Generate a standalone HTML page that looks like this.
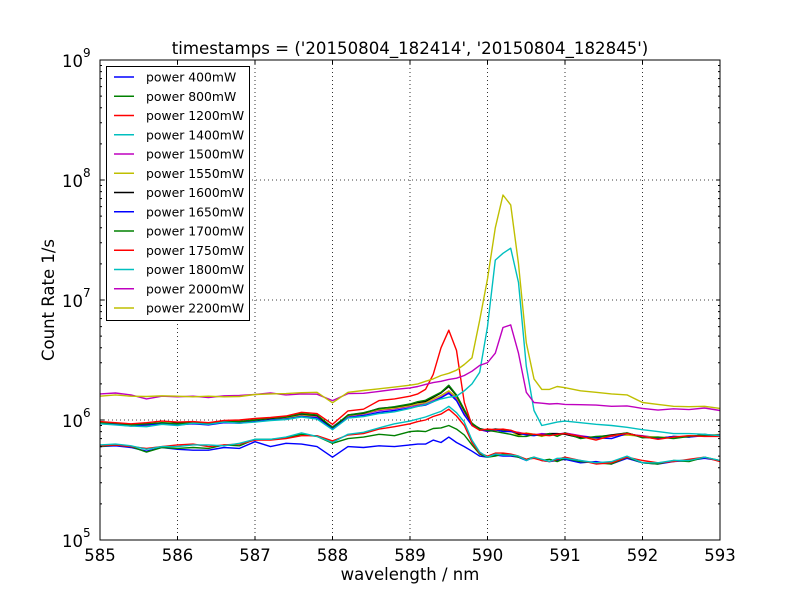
<!DOCTYPE html>
<html><head><meta charset="utf-8"><style>
html,body{margin:0;padding:0;background:#fff;}
svg{display:block;font-family:"DejaVu Sans","Liberation Sans",sans-serif;}
</style></head><body>
<svg id="chart" width="800" height="600" viewBox="0 0 800 600">
<rect x="0" y="0" width="800" height="600" fill="#fff"/>
<g id="grid"></g>
<g id="series"></g>
<rect x="100" y="60" width="620" height="480" fill="none" stroke="#000" stroke-width="1"/>
<g id="ticks"></g>
<text x="410" y="54" text-anchor="middle" font-size="16.6">timestamps = ('20150804_182414', '20150804_182845')</text>
<text x="410" y="580" text-anchor="middle" font-size="16.5">wavelength / nm</text>
<text x="54" y="300" text-anchor="middle" font-size="16.5" transform="rotate(-90 54 300)">Count Rate 1/s</text>
<g id="legend"></g>
</svg>
<script>
const wavelengths = [585,585.2,585.4,585.6,585.8,586,586.2,586.4,586.6,586.8,587,587.2,587.4,587.6,587.8,588,588.2,588.4,588.6,588.8,
589.0,589.1,589.2,589.3,589.4,589.5,589.6,589.7,589.8,589.9,590.0,590.1,590.2,590.3,590.4,590.5,590.6,590.7,590.8,590.9,591.0,
591.2,591.4,591.6,591.8,592,592.2,592.4,592.6,592.8,593];
const seriesNames = ["power 400mW","power 800mW","power 1200mW","power 1400mW","power 1500mW","power 1550mW","power 1600mW","power 1650mW","power 1700mW","power 1750mW","power 1800mW","power 2000mW","power 2200mW"];
const seriesColors = ["#0000ff","#008000","#ff0000","#00bfbf","#bf00bf","#bfbf00","#000000","#0000ff","#008000","#ff0000","#00bfbf","#bf00bf","#bfbf00"];
// values in units of 1e5 counts/s
const p400 = [6.0,6.1,5.9,5.5,5.9,5.7,5.6,5.6,5.9,5.8,6.6,6.0,6.4,6.3,6.0,4.9,6.0,5.9,6.1,6.0, 6.2,6.3,6.3,6.8,6.5,7.2,6.5,6.0,5.5,5.0,4.9,5.1,5.0,5.0,4.9,4.6,4.9,4.6,4.5,4.6,4.7, 4.4,4.5,4.3,4.8,4.4,4.3,4.5,4.6,4.8,4.6];
const p800 = [6.0,6.2,6.0,5.4,5.9,5.8,5.9,5.8,6.2,6.1,6.9,6.9,7.1,7.6,7.3,6.4,7.0,7.2,7.6,7.4, 8.0,8.1,8.0,8.5,8.6,9.0,8.4,7.5,6.2,5.2,4.9,5.0,5.2,5.1,4.9,4.7,4.9,4.6,4.7,4.5,4.8, 4.5,4.4,4.3,4.9,4.4,4.3,4.6,4.5,4.9,4.6];
const p1200 = [6.1,6.2,6.0,5.8,6.0,6.2,6.3,6.0,6.2,6.3,6.8,6.8,7.0,7.4,7.4,6.7,7.5,7.7,8.4,8.8, 9.3,9.7,10.0,10.7,11.2,12.3,10.8,9.0,6.5,5.3,5.0,5.3,5.3,5.2,5.0,4.7,4.8,4.6,4.5,4.7,4.9, 4.6,4.3,4.4,4.9,4.6,4.4,4.5,4.7,4.9,4.5];
const p1400 = [6.2,6.3,6.1,5.7,6.0,6.0,6.2,6.2,6.1,6.4,6.9,6.9,7.2,7.8,7.3,6.5,7.6,7.9,8.6,9.3, 9.8,10.2,10.6,11.2,11.8,13.0,11.5,9.6,6.8,5.4,4.9,5.2,5.1,5.1,5.0,4.6,4.9,4.7,4.5,4.8,4.8, 4.6,4.4,4.5,5.0,4.4,4.4,4.6,4.6,4.9,4.6];
const p1500 = [9.5,9.3,9.0,9.2,9.4,9.2,9.6,9.3,9.7,9.6,9.8,10.2,10.3,10.9,10.6,8.8,10.8,11.2,12.0,12.4, 13.0,13.3,13.6,14.5,15.5,17.0,15.0,11.5,9.2,8.3,8.0,8.2,8.2,8.0,7.9,7.6,7.5,7.7,7.6,7.6,7.8, 7.4,7.1,7.3,7.6,7.4,7.1,7.2,7.3,7.5,7.5];
const p1550 = [9.6,9.2,9.2,9.0,9.5,9.4,9.5,9.4,9.6,9.8,9.9,10.1,10.5,10.8,10.9,8.6,10.9,11.3,12.2,12.6, 13.2,13.6,14.0,15.0,16.0,17.5,15.5,11.8,9.4,8.4,8.1,8.3,8.1,8.1,7.4,7.8,7.6,7.3,7.6,7.5,7.7, 7.2,7.0,7.4,7.5,7.3,7.2,7.1,7.4,7.4,7.6];
const p1600 = [9.4,9.4,9.1,9.3,9.2,9.5,9.4,9.2,9.8,9.7,10.0,10.3,10.6,11.2,10.9,8.5,11.0,11.4,12.5,12.8, 13.5,14.0,14.3,15.5,16.8,19.0,16.0,12.0,9.3,8.5,8.2,8.4,8.3,8.2,7.6,7.7,7.5,7.5,7.7,7.7,7.6, 7.1,7.2,7.5,7.8,7.2,7.0,7.3,7.2,7.6,7.3];
const p1650 = [9.3,9.2,8.9,9.1,9.3,9.1,9.3,9.1,9.5,9.4,9.7,10.0,10.2,10.7,10.4,8.4,10.5,10.9,11.6,12.0, 12.6,13.0,13.3,14.2,15.3,16.7,14.5,11.0,9.0,8.3,8.1,8.3,8.0,8.0,7.8,7.5,7.4,7.6,7.5,7.6,7.7, 7.3,7.1,7.0,7.7,7.3,7.0,7.3,7.2,7.4,7.5];
const p1700 = [9.5,9.4,9.1,9.3,9.5,9.3,9.5,9.4,9.8,9.7,10.0,10.4,10.6,11.3,11.0,8.7,11.0,11.5,12.4,12.9, 13.6,14.2,14.6,15.8,17.0,19.5,16.2,12.2,9.4,8.4,8.2,8.0,7.8,7.6,7.3,7.3,7.6,7.4,7.7,7.3,7.8, 7.0,7.3,7.4,7.8,7.1,7.2,7.0,7.3,7.5,7.4];
const p1750 = [9.7,9.5,9.3,9.5,9.8,9.6,9.7,9.5,9.9,10.0,10.3,10.5,10.8,11.6,11.3,9.2,11.9,12.3,14.5,15.0, 15.8,16.5,18.0,24.0,40.0,56.0,38.0,14.0,9.0,8.2,8.4,8.3,8.4,8.2,7.8,7.7,7.6,7.5,7.4,7.6,7.7, 7.3,6.8,7.4,7.7,7.3,6.9,7.2,7.4,7.3,7.3];
const p1800 = [9.3,9.1,8.9,8.8,9.2,9.0,9.4,9.2,9.6,9.4,9.6,9.9,10.1,10.6,10.2,8.3,10.4,10.7,11.3,11.7, 12.5,13.0,13.5,14.2,15.0,15.5,15.8,17.5,20.0,25.0,60.0,215,245,270,140,28,12,9.0,9.3,9.6,9.8, 9.5,9.2,9.0,8.7,8.3,8.0,7.7,7.7,7.6,7.4];
const p2000 = [16.5,16.8,16.2,15.0,15.8,15.6,15.8,15.4,15.9,16.0,16.3,16.8,16.2,16.5,16.4,14.5,16.6,16.7,17.3,18.0, 18.5,19.0,19.8,20.5,21.0,21.8,22.3,23.5,25.5,28.5,30.0,36.0,59.0,62.0,36.0,17.0,14.0,13.8,13.6,13.7,13.5, 13.4,13.3,13.0,13.1,12.5,12.1,12.4,12.2,12.6,12.0];
const p2200 = [15.8,16.2,15.8,15.7,15.9,15.8,15.6,15.8,15.6,15.7,16.3,16.5,16.6,16.9,17.0,13.9,17.0,17.6,18.2,18.8, 19.5,20.0,21.0,22.0,23.5,24.5,26.0,29.0,33.0,68.0,150,400,750,620,200,44,22,18.0,18.0,19.0,18.6, 17.5,17.0,16.5,16.2,14.0,13.5,13.0,12.9,13.0,12.5];
const seriesValues = [p400,p800,p1200,p1400,p1500,p1550,p1600,p1650,p1700,p1750,p1800,p2000,p2200];
const xTicks = [585,586,587,588,589,590,591,592,593];
const yDecades = [5,6,7,8,9];

const NS = "http://www.w3.org/2000/svg";
const X0 = 100, X1 = 720, Y0 = 540, Y1 = 60;
function xScale(w){ return X0 + (w - 585) / 8 * (X1 - X0); }
function yScale(v){ return Y0 - (Math.log10(v * 1e5) - 5) / 4 * (Y0 - Y1); }
function yScaleExp(e){ return Y0 - (e - 5) / 4 * (Y0 - Y1); }
function mk(tag, attrs, parent){ const el = document.createElementNS(NS, tag); for (const k in attrs) el.setAttribute(k, attrs[k]); parent.appendChild(el); return el; }

const grid = document.getElementById('grid');
const ticks = document.getElementById('ticks');
xTicks.forEach(t => {
  const x = xScale(t);
  if (t > 585 && t < 593) {
    const g = mk('line', {x1:x, x2:x, y1:Y1, y2:Y0, stroke:'#000', 'stroke-width':0.8, 'stroke-dasharray':'1,3'}, grid);
    
    
  }
  mk('line', {x1:x, x2:x, y1:Y0, y2:Y0-4, stroke:'#000'}, ticks);
  mk('line', {x1:x, x2:x, y1:Y1, y2:Y1+4, stroke:'#000'}, ticks);
  const lbl = mk('text', {x:x, y:Y0+21, 'text-anchor':'middle', 'font-size':16.5}, ticks);
  lbl.textContent = String(t);
  
  
});
yDecades.forEach(e => {
  const y = yScaleExp(e);
  if (e > 5 && e < 9) {
    const g = mk('line', {x1:X0, x2:X1, y1:y, y2:y, stroke:'#000', 'stroke-width':0.8, 'stroke-dasharray':'1,3'}, grid);
    
    
  }
  mk('line', {x1:X0, x2:X0+4, y1:y, y2:y, stroke:'#000'}, ticks);
  mk('line', {x1:X1, x2:X1-4, y1:y, y2:y, stroke:'#000'}, ticks);
  if (e < 9) for (let m = 2; m <= 9; m++) {
    const ym = Y0 - (e + Math.log10(m) - 5) / 4 * (Y0 - Y1);
    mk('line', {x1:X0, x2:X0+2, y1:ym, y2:ym, stroke:'#000'}, ticks);
    mk('line', {x1:X1, x2:X1-2, y1:ym, y2:ym, stroke:'#000'}, ticks);
  }
  const lbl = mk('text', {x:X0-17, y:y+7, 'text-anchor':'end', 'font-size':16.5}, ticks);
  lbl.textContent = '10';
  
  
  const sup = mk('text', {x:X0-17, y:y-3, 'text-anchor':'start', 'font-size':12}, ticks);
  sup.textContent = String(e);
});

const sg = document.getElementById('series');
seriesValues.forEach((vals, i) => {
  const pts = vals.map((v, j) => xScale(wavelengths[j]).toFixed(1) + ',' + yScale(v).toFixed(1)).join(' ');
  const pl = mk('polyline', {points:pts, fill:'none', stroke:seriesColors[i], 'stroke-width':1.4, 'stroke-linejoin':'round'}, sg);
  
  
});

const lg = document.getElementById('legend');
const box = mk('rect', {x:106.5, y:66.5, width:143, height:254, fill:'#fff', stroke:'#000', 'stroke-width':1}, lg);


seriesNames.forEach((n, i) => {
  const y = 77 + i * 19.25;
  const ent = mk('g', {}, lg);
  
  
  mk('line', {x1:114, x2:134, y1:y, y2:y, stroke:seriesColors[i], 'stroke-width':1.4}, ent);
  const t = mk('text', {x:146, y:y+4.5, 'font-size':12.4}, ent);
  t.textContent = n;
});
</script>
</body></html>
